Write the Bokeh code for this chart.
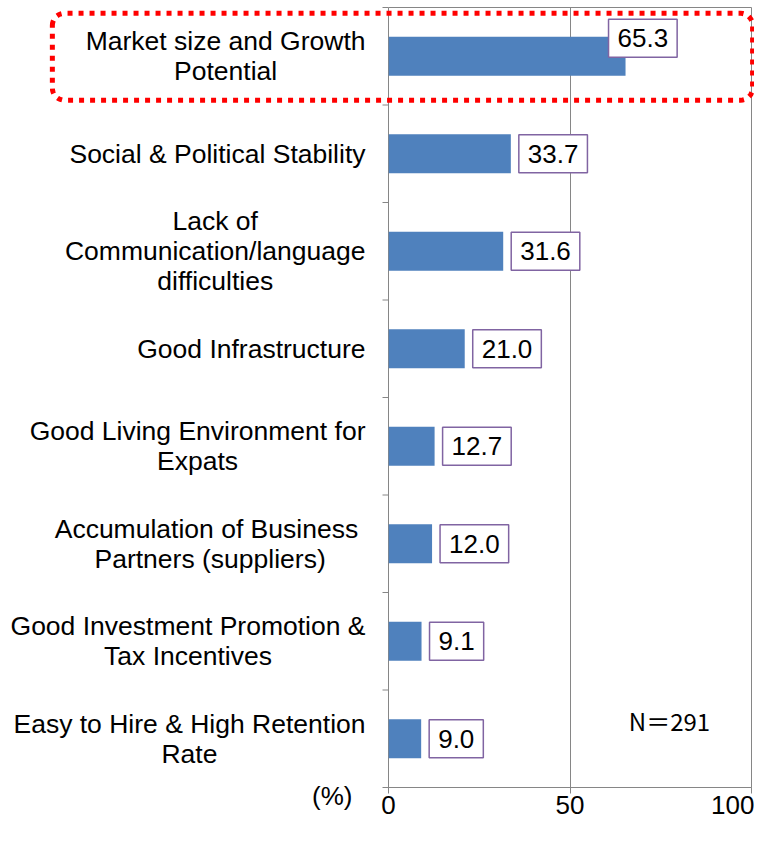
import numpy as np
from bokeh.plotting import figure
from bokeh.models import Range1d, FixedTicker, ColumnDataSource
from bokeh.core.properties import value
from bokeh.embed import file_html
from bokeh.resources import INLINE

categories = [
    "Market size and Growth\nPotential",
    "Social & Political Stability",
    "Lack of\nCommunication/language\ndifficulties",
    "Good Infrastructure",
    "Good Living Environment for\nExpats",
    "Accumulation of Business \nPartners (suppliers)",
    "Good Investment Promotion &\nTax Incentives",
    "Easy to Hire & High Retention\nRate",
]
values = [65.3, 33.7, 31.6, 21.0, 12.7, 12.0, 9.1, 9.0]
x_ticks = [0, 50, 100]
unit_label = "(%)"
sample_note = "N\uff1d291"

FONT = value("Liberation Sans")
GRAY = "#868686"
n = len(values)
pos = list(range(n))

p = figure(width=754, height=825, output_backend="svg", toolbar_location=None,
           x_range=Range1d(0, 100), y_range=Range1d(n - 0.5, -0.5),
           min_border_left=388, min_border_right=3, min_border_top=7,
           min_border_bottom=38)
p.outline_line_color = GRAY
p.outline_line_width = 1
p.background_fill_color = "white"

# grid
p.xgrid.ticker = FixedTicker(ticks=x_ticks)
p.xgrid.grid_line_color = GRAY
p.ygrid.visible = False

# x axis
ax = p.xaxis[0]
ax.ticker = FixedTicker(ticks=x_ticks)
ax.axis_line_color = GRAY
ax.major_tick_line_color = GRAY
ax.minor_tick_line_color = None
ax.major_tick_out = 6
ax.major_tick_in = 0
ax.major_label_standoff = 2
ax.major_label_text_font = "Liberation Sans"
ax.major_label_text_font_size = "26px"
ax.major_label_text_color = "black"

# y axis: category boundary ticks drawn on the frame edge
p.yaxis.visible = False
bounds = [i - 0.5 for i in range(n + 1)]
p.ray(x=[0] * len(bounds), y=bounds, length=6, length_units="screen",
      angle=np.pi, line_color=GRAY, line_width=1, level="overlay")

# bars
src = ColumnDataSource(dict(
    y=pos, v=values, cat=categories,
    lbl=[f"{v:.1f}" for v in values],
    dx=[-17 if v > 60 else 8 for v in values],
    dy=[-18 if v > 60 else 0 for v in values],
))
p.hbar(y="y", left=0, right="v", height=0.4, source=src,
       fill_color="#4F81BD", line_color=None)

# value labels (boxed)
p.text(x="v", y="y", text="lbl", source=src, x_offset="dx", y_offset="dy",
       anchor="center_left", text_font=FONT, text_font_size="26px",
       text_color="black", padding=dict(left=9, right=9, top=10, bottom=10),
       border_line_color="#8064A2", border_line_width=1.5,
       background_fill_color="white", level="overlay")

# category labels
p.text(x=0, y="y", text="cat", source=src, x_offset=-23,
       anchor="center_right", text_align="center", text_font=FONT,
       text_font_size="26.5px", text_line_height=1.0, text_color="black",
       level="overlay")

# unit label
p.text(x=[0], y=[n - 0.5], text=[unit_label], x_offset=-36, y_offset=8,
       anchor="center_right", text_font=FONT, text_font_size="26px",
       text_color="black", level="overlay")

# sample size note
p.text(x=[100], y=[n - 1], text=[sample_note], x_offset=-82, y_offset=-18,
       anchor="center", text_font=value("Noto Sans CJK JP"), text_font_size="24px",
       text_color="black", level="overlay")

# red dotted rounded highlight box around the first category
px_per_x = 363 / 100.0
px_per_y = 97.5
r = 12
x0, x1 = -92.6, 100.3
y0, y1 = pos[0] - 0.44, pos[0] + 0.45
rx, ry = r / px_per_x, r / px_per_y
t = np.linspace(0, np.pi / 2, 10)
xs, ys = [], []
for cx, cy, a0 in [(x0 + rx, y0 + ry, np.pi), (x1 - rx, y0 + ry, 1.5 * np.pi),
                   (x1 - rx, y1 - ry, 0.0), (x0 + rx, y1 - ry, 0.5 * np.pi)]:
    xs.extend(cx + rx * np.cos(a0 + t))
    ys.extend(cy + ry * np.sin(a0 + t))
xs.append(xs[0])
ys.append(ys[0])
p.line(x=xs, y=ys, line_color="#FF0000", line_width=5, line_dash="5 6",
       line_cap="butt", line_join="miter", level="overlay")

open("out.html", "w").write(file_html(p, INLINE))
